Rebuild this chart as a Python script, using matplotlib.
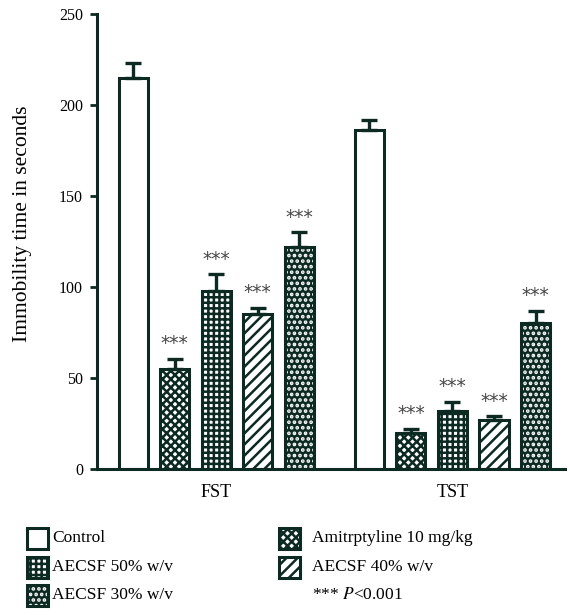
import matplotlib
matplotlib.use("Agg")
import matplotlib.pyplot as plt
from matplotlib.patches import Rectangle
import numpy as np

groups = ["FST", "TST"]
treatments = ["Control", "Amitrptyline 10 mg/kg", "AECSF 50% w/v", "AECSF 40% w/v", "AECSF 30% w/v"]
fst_mean = [215, 55, 98, 85, 122]
fst_sem = [8, 5.5, 9, 3.5, 8]
tst_mean = [186, 20, 32, 27, 80]
tst_sem = [6, 2, 5, 2, 7]
significant = [False, True, True, True, True]
yticks = [0, 50, 100, 150, 200, 250]

plt.rcParams['font.family'] = ['Liberation Serif', 'DejaVu Serif']
plt.rcParams['mathtext.fontset'] = 'stix'
plt.rcParams['hatch.linewidth'] = 1.8

DARK = '#0c2a22'
W = 570; H = 615
fig = plt.figure(figsize=(W/100, H/100), dpi=100)
ax = fig.add_axes([97/W, 146/H, (565-97)/W, (469-14)/H])

# style per treatment: (face, hatch, hatchcolor)
styles = [
    ('white', None, None),
    ('white', 'xxxx', DARK),
    ('white', '+++', DARK),
    ('white', '///', DARK),
    (DARK, '...', 'white'),
]

group_centers = [0.0, 5.69]
offsets = np.arange(len(treatments)) - 2
width = 0.70
means = [fst_mean, tst_mean]
sems = [fst_sem, tst_sem]

for gi, gc in enumerate(group_centers):
    for ti in range(len(treatments)):
        x = gc + offsets[ti]
        m = means[gi][ti]; s = sems[gi][ti]
        face, hatch, hc = styles[ti]
        ax.bar(x, m, width, color=face, edgecolor=hc if hc else face, hatch=hatch, linewidth=0, zorder=2)
        ax.bar(x, m, width, fill=False, edgecolor=DARK, linewidth=2.2, zorder=3)
        ax.errorbar(x, m, yerr=[[0], [s]], fmt='none', ecolor=DARK, elinewidth=2.4,
                    capsize=6, capthick=2.4, zorder=4)
        if significant[ti]:
            ax.text(x, m + s + 3, '***', ha='center', va='bottom', fontsize=13.5,
                    color='#444444', family='DejaVu Sans', zorder=5)

ax.set_xlim(-2.87, 8.40)
ax.set_ylim(0, 250)
ax.set_yticks(yticks)
ax.set_xticks(group_centers)
ax.set_xticklabels(groups, fontsize=13)
ax.tick_params(axis='x', length=0, pad=11)
ax.tick_params(axis='y', length=5, width=2.0, labelsize=11.5, color=DARK, pad=5)
for sp in ['top', 'right']:
    ax.spines[sp].set_visible(False)
for sp in ['left', 'bottom']:
    ax.spines[sp].set_linewidth(2.2)
    ax.spines[sp].set_color(DARK)
ax.set_ylabel('Immobility time in seconds', fontsize=15.5)
ax.yaxis.set_label_coords(-0.139, 0.54)

# legend
cols = [(27, 52), (279, 312)]
rows = [538, 567, 595]
col1 = [0, 2, 4]
col2 = [1, 3]
sq = 21
for ci, lst in enumerate([col1, col2]):
    xs, xt = cols[ci]
    for ri, ti in enumerate(lst):
        yc = rows[ri]
        face, hatch, hc = styles[ti]
        r1 = Rectangle((xs/W, 1 - (yc + sq/2)/H), sq/W, sq/H, transform=fig.transFigure,
                       facecolor=face, edgecolor=hc if hc else face, hatch=hatch, linewidth=0)
        r2 = Rectangle((xs/W, 1 - (yc + sq/2)/H), sq/W, sq/H, transform=fig.transFigure,
                       fill=False, edgecolor=DARK, linewidth=2.2)
        fig.add_artist(r1); fig.add_artist(r2)
        fig.text(xt/W, 1 - yc/H, treatments[ti], fontsize=12.5, va='center', ha='left')
fig.text(312/W, 1 - rows[2]/H, '*** $P$<0.001', fontsize=12.5, va='center', ha='left')

fig.savefig('out.png', dpi=100)
